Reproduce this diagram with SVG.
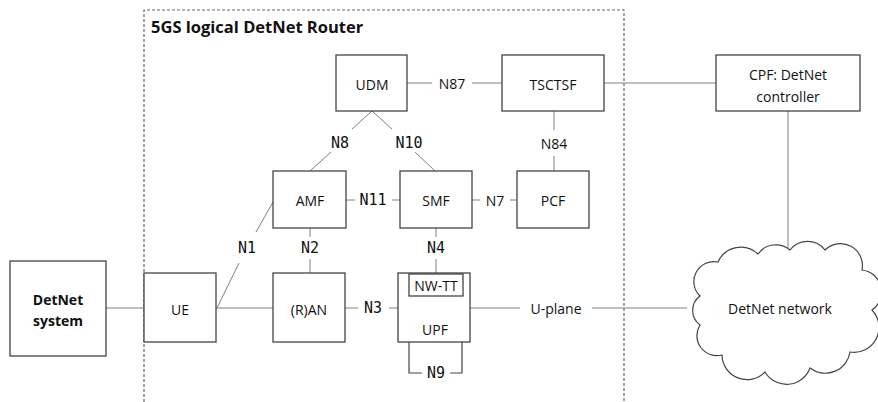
<svg xmlns="http://www.w3.org/2000/svg" width="878" height="402" viewBox="0 0 878 402">
<style>
.box{fill:#fff;stroke:#444;stroke-width:1.3}
.ln{fill:none;stroke:#808080;stroke-width:1}
.lp{fill:none;stroke:#444;stroke-width:1.2}
.t{font-family:"Open Sans","Liberation Sans",sans-serif;font-size:14px;fill:#111;text-anchor:middle;dominant-baseline:central}
.m{font-family:"DejaVu Sans Mono","Liberation Mono",monospace;font-size:15px;fill:#111;text-anchor:middle;dominant-baseline:central}
.b{font-weight:bold}
</style>
<rect width="878" height="402" fill="#fff"/>
<g id="boundary">
<path d="M144,402 V10 H624 V402" fill="none" stroke="#666" stroke-width="1.2" stroke-dasharray="3,2"/>
<text x="151" y="26" font-family="'Open Sans','Liberation Sans',sans-serif" font-size="16.5" font-weight="bold" fill="#111" dominant-baseline="central">5GS logical DetNet Router</text>
</g>
<g id="connectors">
<path class="ln" d="M407,83 H432 M472,83 H502"/>
<text class="t" x="452" y="83">N87</text>
<path class="ln" d="M604,83 H716"/>
<path class="ln" d="M554,111 V130 M554,156 V171"/>
<text class="t" x="554" y="143">N84</text>
<path class="ln" d="M372,111 L352,129 M331,152 L310,171"/>
<text class="m" x="340" y="143">N8</text>
<path class="ln" d="M372,111 L392,129 M415,152 L435,171"/>
<text class="m" x="409" y="143">N10</text>
<path class="ln" d="M346,200 H355 M392,200 H400"/>
<text class="m" x="373" y="200">N11</text>
<path class="ln" d="M472,200 H480 M510,200 H517"/>
<text class="t" x="495" y="200">N7</text>
<path class="ln" d="M310,228 V237 M310,259 V273"/>
<text class="m" x="310" y="248">N2</text>
<path class="ln" d="M436,228 V237 M436,259 V273"/>
<text class="m" x="436" y="248">N4</text>
<path class="ln" d="M217,308 L239,263 M256,232 L273,202"/>
<text class="m" x="247" y="248">N1</text>
<path class="ln" d="M106,308 H144"/>
<path class="ln" d="M216,308 H273"/>
<path class="ln" d="M345,308 H358 M389,308 H398"/>
<text class="m" x="373" y="308">N3</text>
<path class="lp" d="M409,342 V373 H422 M450,373 H462 V342"/>
<text class="m" x="436" y="373">N9</text>
<path class="ln" d="M470,308 H520 M592,308 H687"/>
<text class="t" x="556" y="308" font-size="14.5">U-plane</text>
<path class="ln" d="M788,111 V251"/>
</g>
<g id="udm"><rect class="box" x="336" y="55" width="71" height="56"/><text class="t" x="372" y="84">UDM</text></g>
<g id="tsctsf"><rect class="box" x="502" y="55" width="102" height="56"/><text class="t" x="553" y="84">TSCTSF</text></g>
<g id="cpf"><rect class="box" x="716" y="55" width="144" height="56"/><text class="t" x="788" y="74" font-size="16">CPF: DetNet</text><text class="t" x="788" y="96" font-size="16">controller</text></g>
<g id="amf"><rect class="box" x="273" y="171" width="73" height="57"/><text class="t" x="310" y="200">AMF</text></g>
<g id="smf"><rect class="box" x="400" y="171" width="72" height="57"/><text class="t" x="436" y="200">SMF</text></g>
<g id="pcf"><rect class="box" x="517" y="171" width="72" height="57"/><text class="t" x="553" y="200">PCF</text></g>
<g id="detnet-system"><rect class="box" x="10" y="261" width="96" height="95"/><text class="t b" x="58" y="299">DetNet</text><text class="t b" x="58" y="320">system</text></g>
<g id="ue"><rect class="box" x="144" y="273" width="72" height="69"/><text class="t" x="180" y="309">UE</text></g>
<g id="ran"><rect class="box" x="273" y="273" width="72" height="69"/><text class="t" x="309" y="309">(R)AN</text></g>
<g id="upf"><rect class="box" x="398" y="273" width="72" height="69"/><rect class="box" x="409" y="274" width="54" height="22"/><text class="t" x="436" y="285" font-size="9.5">NW-TT</text><text class="t" x="435" y="329">UPF</text></g>
<g id="detnet-network">
<path d="M700,296 A20,20 0 0 1 718,262 A25,25 0 0 1 758,254 A22,22 0 0 1 790,250 A22,22 0 0 1 825,250 A22,22 0 0 1 862,270 A22,22 0 0 1 872,310 A25,25 0 0 1 850,352 A25,25 0 0 1 810,368 A25,25 0 0 1 765,372 A25,25 0 0 1 722,355 A20,20 0 0 1 700,325 A18,18 0 0 1 700,296 Z" fill="#fff" stroke="#444" stroke-width="1.2"/>
<text class="t" x="780" y="308" font-size="16.5">DetNet network</text>
</g>
</svg>
